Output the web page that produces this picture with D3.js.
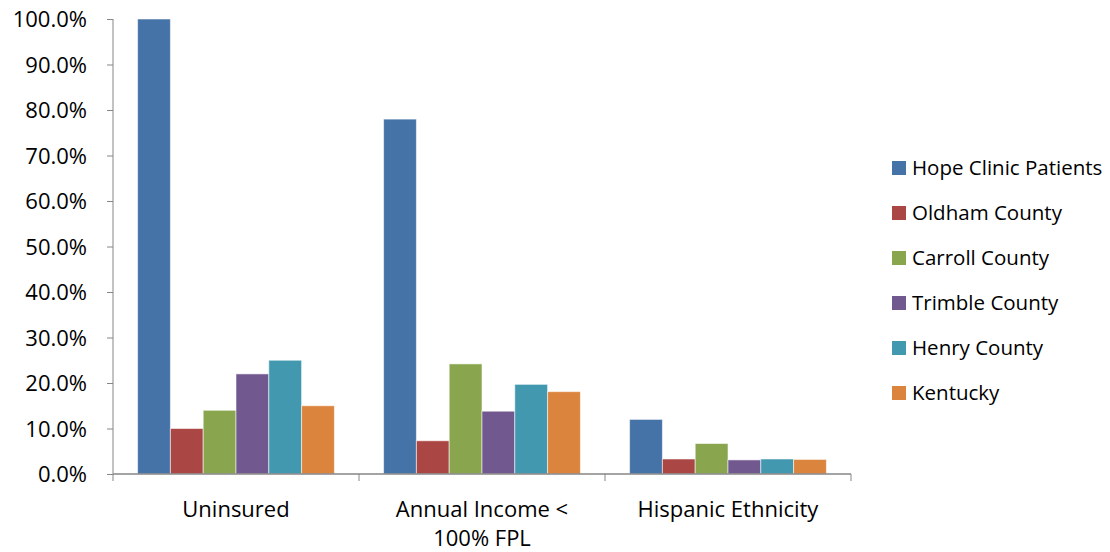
<!DOCTYPE html>
<html>
<head>
<meta charset="utf-8">
<script src="https://cdn.jsdelivr.net/npm/d3@7"></script>
<style>
  html, body { margin: 0; padding: 0; background: #fff; }
  svg text { font-family: "Open Sans", sans-serif; fill: #000; }
</style>
</head>
<body>
<svg id="chart" width="1110" height="552"></svg>
<script>
// Categories along the x axis (lines split where the label wraps)
const categories = ["Uninsured", "Annual Income < 100% FPL", "Hispanic Ethnicity"];
const categoryLines = [["Uninsured"], ["Annual Income <", "100% FPL"], ["Hispanic Ethnicity"]];

// Series names and their values (percent) per category
const seriesNames = ["Hope Clinic Patients", "Oldham County", "Carroll County", "Trimble County", "Henry County", "Kentucky"];
const hopeClinic = [100, 78, 12];
const oldham = [10, 7.3, 3.3];
const carroll = [14, 24.2, 6.7];
const trimble = [22, 13.8, 3.1];
const henry = [25, 19.7, 3.3];
const kentucky = [15, 18.1, 3.2];
const seriesValues = [hopeClinic, oldham, carroll, trimble, henry, kentucky];

const colors = ["#4572A7", "#AA4643", "#89A54E", "#71588F", "#4198AF", "#DB843D"];
const yTicks = [0, 10, 20, 30, 40, 50, 60, 70, 80, 90, 100];

const axisFont = 22;
const legendFont = 20.5;
const svg = d3.select("#chart");
const plot = { left: 113, right: 851, top: 19, bottom: 474 };

const x0 = d3.scaleBand().domain(categories).range([plot.left, plot.right]).paddingInner(0).paddingOuter(0);
// 6 bars per group with a gap of 1.5 bar widths split on both sides
const x1 = d3.scaleBand().domain(seriesNames).range([0, x0.bandwidth()]).paddingInner(0).paddingOuter(0.75);
const y = d3.scaleLinear().domain([0, 100]).range([plot.bottom, plot.top]);

const axisColor = "#868686";

// Bars
const groups = svg.append("g").selectAll("g")
  .data(categories)
  .join("g")
  .attr("transform", d => `translate(${x0(d)},0)`);

groups.selectAll("rect")
  .data((c, ci) => seriesNames.map((s, si) => ({ s, si, v: seriesValues[si][ci] })))
  .join("rect")
  .attr("x", d => x1(d.s))
  .attr("y", d => y(d.v))
  .attr("width", x1.bandwidth())
  .attr("height", d => y(0) - y(d.v))
  .attr("fill", d => colors[d.si])
  .attr("stroke", "rgba(255,255,255,0.55)")
  .attr("stroke-width", 1);

// Y axis
const yAxis = svg.append("g")
  .attr("transform", `translate(${plot.left},0)`)
  .call(d3.axisLeft(y).tickValues(yTicks).tickSize(6).tickPadding(20).tickFormat(d => d.toFixed(1) + "%"));
yAxis.select(".domain").attr("stroke", axisColor).attr("d", `M0,${plot.top}V${plot.bottom}`);
yAxis.selectAll(".tick line").attr("stroke", axisColor);
yAxis.selectAll(".tick text").attr("font-size", axisFont).attr("font-family", "'Open Sans', sans-serif").attr("dy", "0.35em");

// X axis: ticks between categories
const xAxis = svg.append("g").attr("transform", `translate(0,${plot.bottom})`);
xAxis.append("line")
  .attr("x1", plot.left).attr("x2", plot.right)
  .attr("stroke", axisColor).attr("stroke-width", 1.5);
const boundaries = categories.map(c => x0(c)).concat([plot.right]);
xAxis.selectAll("line.tick")
  .data(boundaries)
  .join("line")
  .attr("class", "tick")
  .attr("x1", d => d).attr("x2", d => d)
  .attr("y1", 0).attr("y2", 7)
  .attr("stroke", axisColor);

// Category labels
const labels = svg.append("g").selectAll("text")
  .data(categories)
  .join("text")
  .attr("x", d => x0(d) + x0.bandwidth() / 2)
  .attr("y", 517)
  .attr("text-anchor", "middle")
  .attr("font-size", axisFont);
labels.each(function(d, i) {
  d3.select(this).selectAll("tspan")
    .data(categoryLines[i])
    .join("tspan")
    .attr("x", x0(d) + x0.bandwidth() / 2)
    .attr("dy", (l, j) => j === 0 ? 0 : 29)
    .text(l => l);
});

// Legend
const legend = svg.append("g").selectAll("g")
  .data(seriesNames)
  .join("g")
  .attr("transform", (d, i) => `translate(892,${168 + i * 45})`);
legend.append("rect")
  .attr("x", 0).attr("y", -7)
  .attr("width", 14).attr("height", 14)
  .attr("fill", (d, i) => colors[i]);
legend.append("text")
  .attr("x", 20).attr("y", 0).attr("dy", "0.35em")
  .attr("font-size", legendFont)
  .text(d => d);
</script>
</body>
</html>
